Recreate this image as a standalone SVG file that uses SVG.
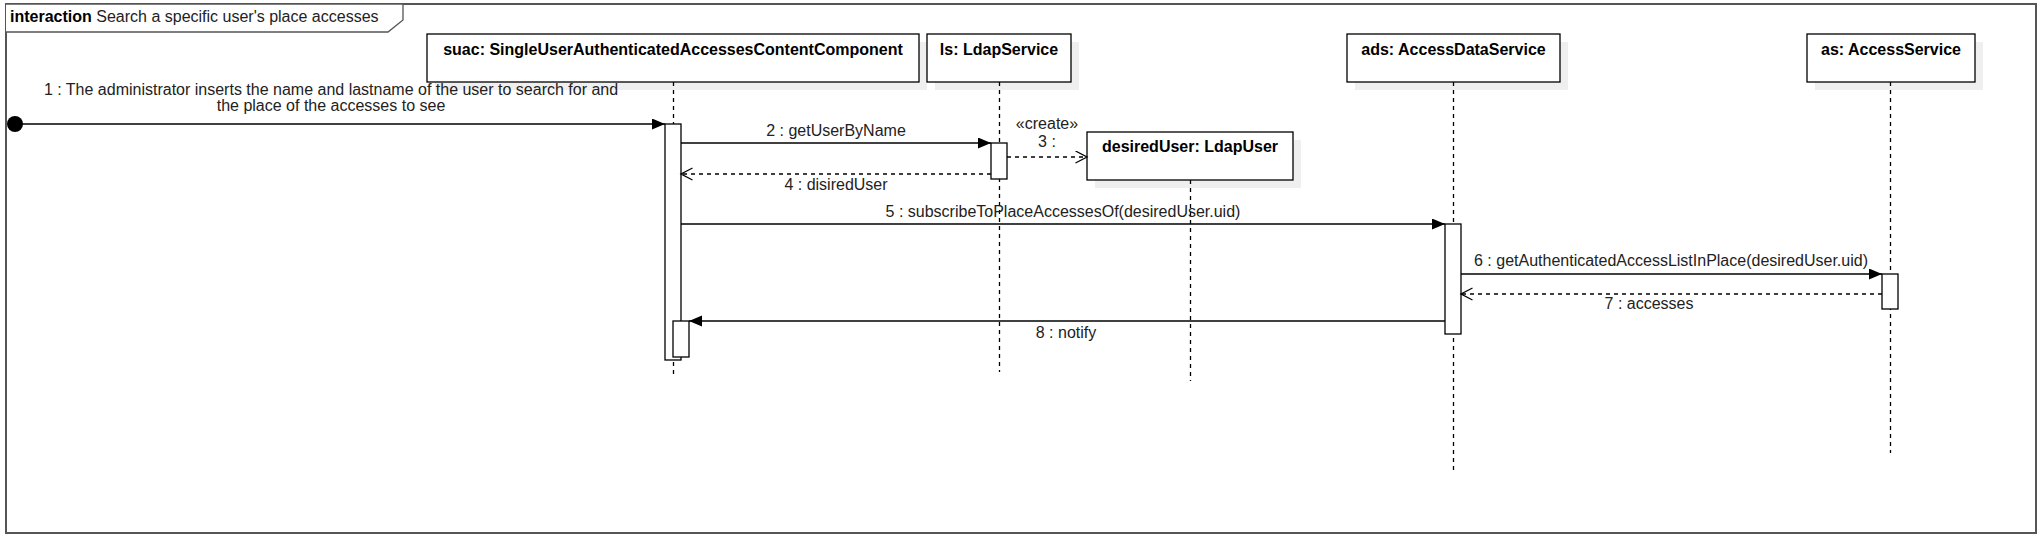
<svg xmlns="http://www.w3.org/2000/svg" width="2044" height="542" viewBox="0 0 2044 542">
  <style>
    text { font-family: "Liberation Sans", Arial, Helvetica, sans-serif; font-size: 16px; fill: #222; }
    .hdr { font-weight: bold; fill: #000; text-anchor: middle; }
    .lbl { text-anchor: middle; }
    .box { fill: #fff; stroke: #000; stroke-width: 1.3; }
    .shadow { fill: #efefef; stroke: none; }
    .life { stroke: #000; stroke-width: 1.3; stroke-dasharray: 4 4; fill: none; }
    .act { fill: #fff; stroke: #000; stroke-width: 1.3; }
    .msg { stroke: #000; stroke-width: 1.3; fill: none; marker-end: url(#filled); }
    .ret { stroke: #000; stroke-width: 1.3; fill: none; stroke-dasharray: 4 4; marker-end: url(#open); }
  </style>
  <defs>
    <marker id="filled" markerUnits="userSpaceOnUse" markerWidth="14" markerHeight="12" refX="13" refY="5.5" orient="auto">
      <path d="M0,0 L13,5.5 L0,11 z" fill="#000"/>
    </marker>
    <marker id="open" markerUnits="userSpaceOnUse" markerWidth="14" markerHeight="14" refX="12" refY="6.5" orient="auto">
      <path d="M0.5,0.5 L12,6.5 L0.5,12.5" fill="none" stroke="#000" stroke-width="1.3"/>
    </marker>
  </defs>

  <g id="frame">
    <rect x="6" y="4" width="2030" height="529" fill="#fff" stroke="#555" stroke-width="2"/>
    <path d="M6,4 L403,4 L403,20 L388,32 L6,32" fill="#fff" stroke="#555" stroke-width="1.3"/>
    <text x="10" y="22"><tspan font-weight="bold" fill="#000">interaction</tspan> Search a specific user's place accesses</text>
  </g>

  <g id="suac">
    <rect class="shadow" x="435" y="42" width="492" height="48"/>
    <rect class="box" x="427" y="34" width="492" height="48"/>
    <text class="hdr" x="673" y="55">suac: SingleUserAuthenticatedAccessesContentComponent</text>
    <line class="life" x1="673.5" y1="82" x2="673.5" y2="377"/>
  </g>

  <g id="ls">
    <rect class="shadow" x="935" y="42" width="144" height="48"/>
    <rect class="box" x="927" y="34" width="144" height="48"/>
    <text class="hdr" x="999" y="55">ls: LdapService</text>
    <line class="life" x1="999.5" y1="82" x2="999.5" y2="372"/>
  </g>

  <g id="desiredUser">
    <rect class="shadow" x="1095" y="140" width="206" height="48"/>
    <rect class="box" x="1087" y="132" width="206" height="48"/>
    <text class="hdr" x="1190" y="152">desiredUser: LdapUser</text>
    <line class="life" x1="1190.5" y1="180" x2="1190.5" y2="381"/>
  </g>

  <g id="ads">
    <rect class="shadow" x="1355" y="42" width="213" height="48"/>
    <rect class="box" x="1347" y="34" width="213" height="48"/>
    <text class="hdr" x="1453.5" y="55">ads: AccessDataService</text>
    <line class="life" x1="1453.5" y1="82" x2="1453.5" y2="470"/>
  </g>

  <g id="as">
    <rect class="shadow" x="1815" y="42" width="168" height="48"/>
    <rect class="box" x="1807" y="34" width="168" height="48"/>
    <text class="hdr" x="1891" y="55">as: AccessService</text>
    <line class="life" x1="1890.5" y1="82" x2="1890.5" y2="453"/>
  </g>

  <g id="activations">
    <rect class="act" x="665" y="124" width="16" height="236"/>
    <rect class="act" x="673" y="321" width="16" height="36"/>
    <rect class="act" x="991" y="143" width="16" height="36"/>
    <rect class="act" x="1445" y="224" width="16" height="110"/>
    <rect class="act" x="1882" y="274" width="16" height="35"/>
  </g>

  <g id="connectors">
    <circle cx="15" cy="124" r="8" fill="#000"/>
    <line class="msg" x1="15" y1="124" x2="665" y2="124"/>
    <text class="lbl" x="331" y="95">1 : The administrator inserts the name and lastname of the user to search for and</text>
    <text class="lbl" x="331" y="111">the place of the accesses to see</text>

    <line class="msg" x1="681" y1="143" x2="991" y2="143"/>
    <text class="lbl" x="836" y="136">2 : getUserByName</text>

    <line class="ret" x1="1007" y1="157" x2="1087" y2="157"/>
    <text class="lbl" x="1047" y="129">«create»</text>
    <text class="lbl" x="1047" y="147">3 :</text>

    <line class="ret" x1="991" y1="174" x2="681" y2="174"/>
    <text class="lbl" x="836" y="190">4 : disiredUser</text>

    <line class="msg" x1="681" y1="224" x2="1445" y2="224"/>
    <text class="lbl" x="1063" y="217">5 : subscribeToPlaceAccessesOf(desiredUser.uid)</text>

    <line class="msg" x1="1461" y1="274" x2="1882" y2="274"/>
    <text class="lbl" x="1671" y="266">6 : getAuthenticatedAccessListInPlace(desiredUser.uid)</text>

    <line class="ret" x1="1882" y1="294" x2="1461" y2="294"/>
    <text class="lbl" x="1649" y="309">7 : accesses</text>

    <line class="msg" x1="1445" y1="321" x2="689" y2="321"/>
    <text class="lbl" x="1066" y="338">8 : notify</text>
  </g>
</svg>
